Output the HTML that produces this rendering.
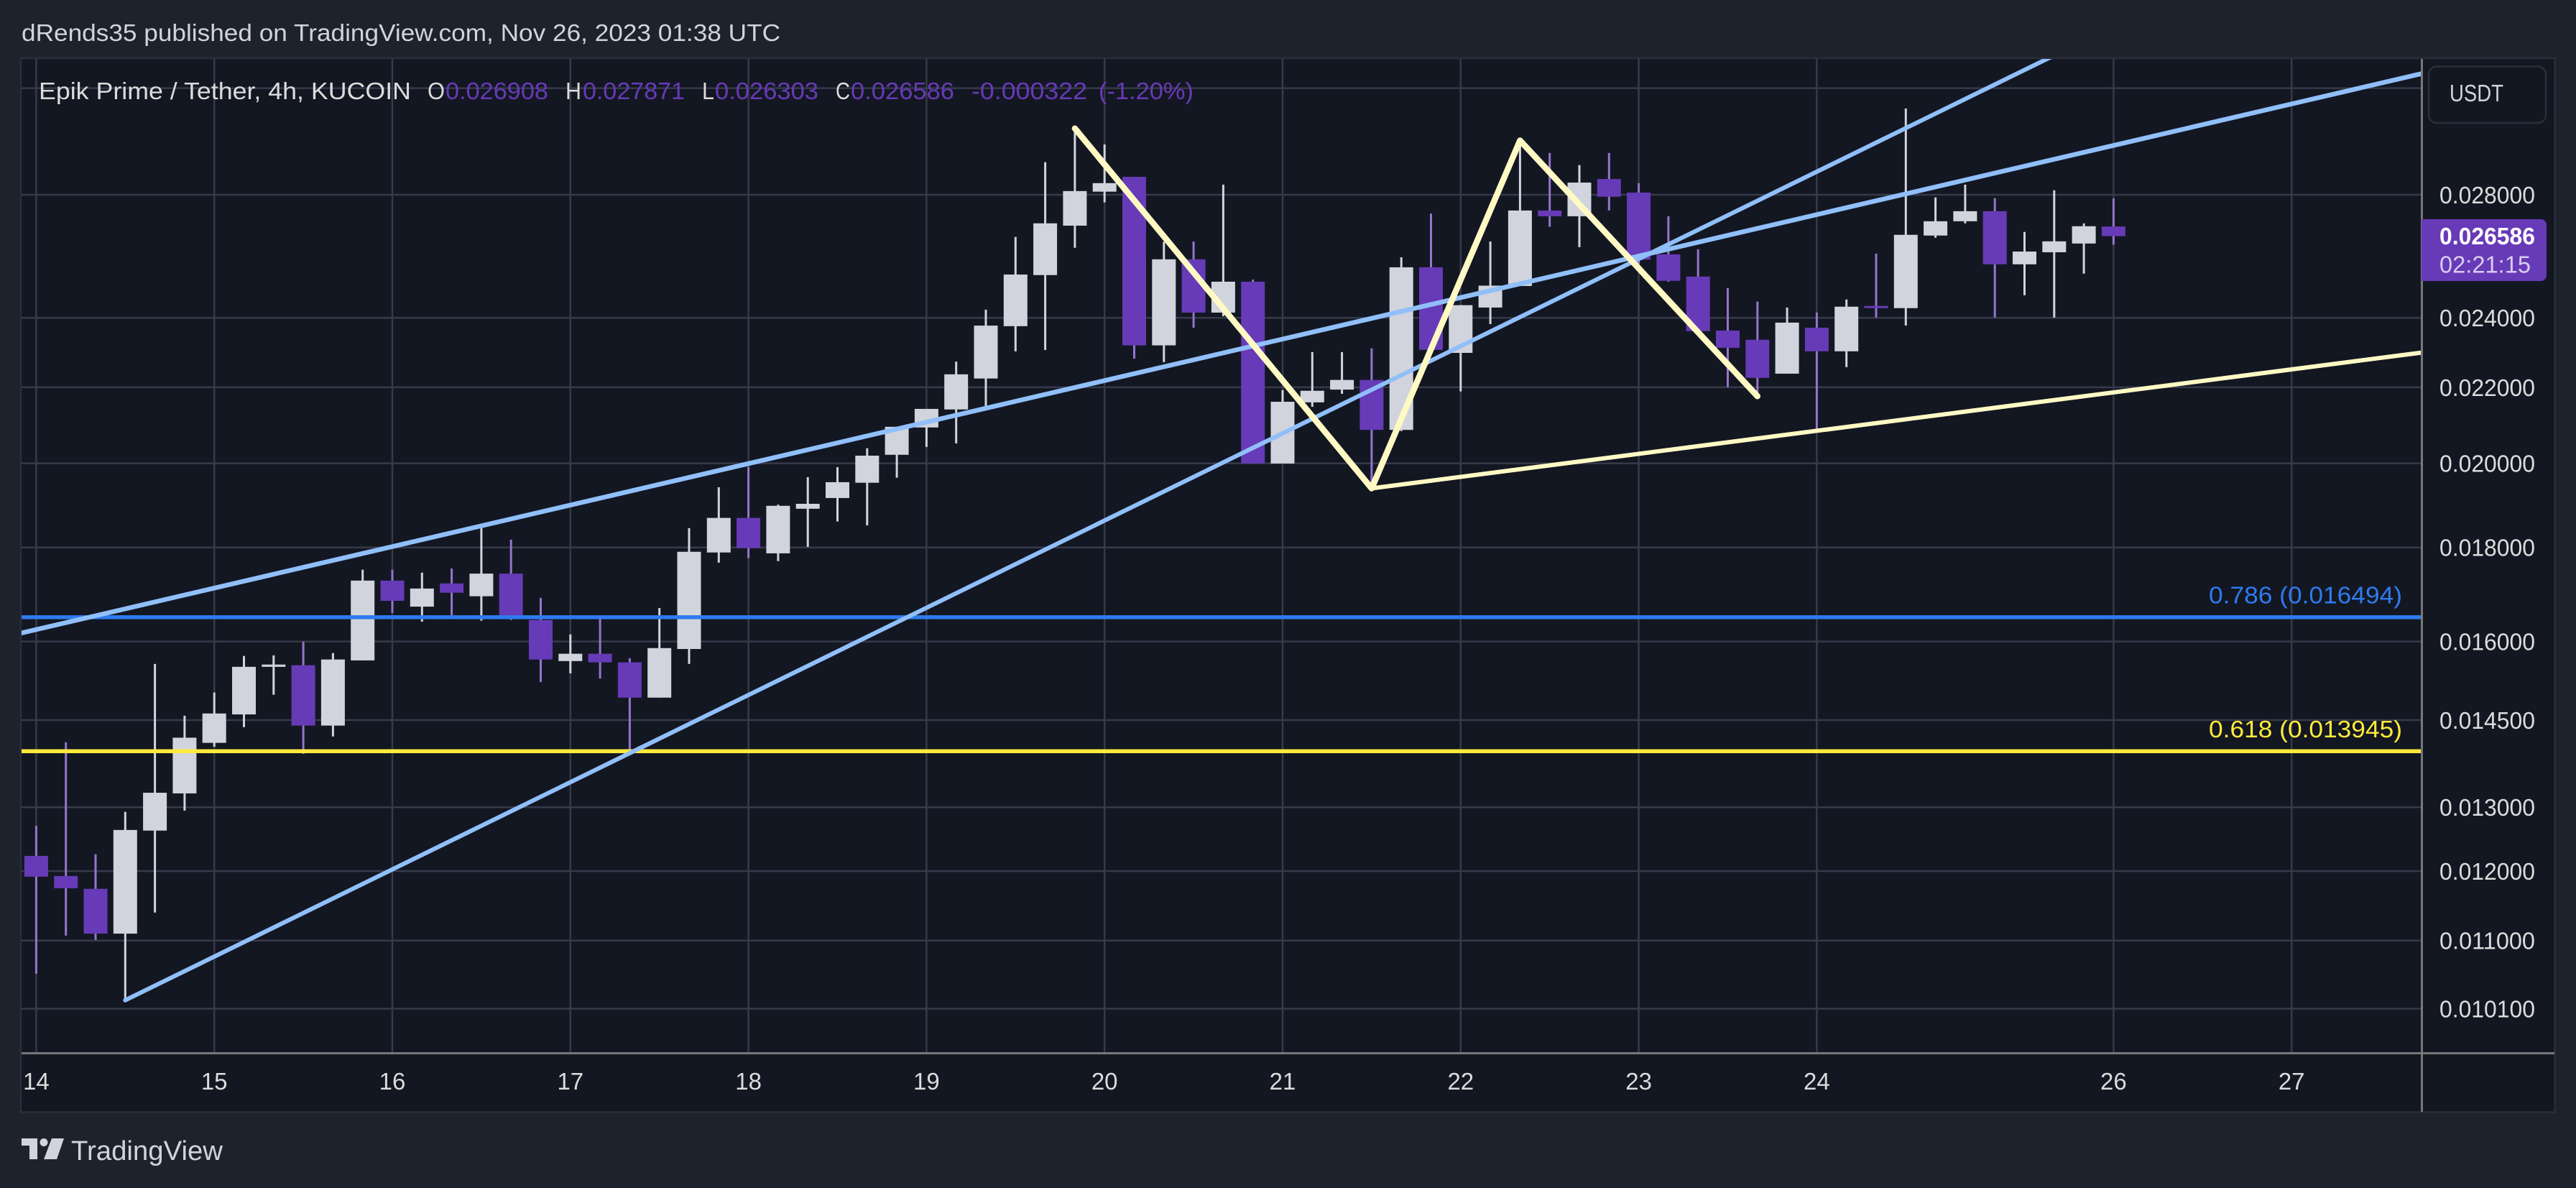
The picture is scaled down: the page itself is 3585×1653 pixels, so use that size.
<!DOCTYPE html>
<html lang="en">
<head>
<meta charset="utf-8">
<title>Epik Prime / Tether 4h chart</title>
<style>
html,body{margin:0;padding:0;background:#1e222d;width:3585px;height:1653px;overflow:hidden}
svg{display:block}
text{font-family:"Liberation Sans",sans-serif;font-size:33px}
</style>
</head>
<body>
<svg id="chart" xmlns="http://www.w3.org/2000/svg" width="3585" height="1653" viewBox="0 0 3585 1653">
  <defs>
    <clipPath id="plot-clip"><rect x="30" y="82" width="3339" height="1382"/></clipPath>
  </defs>
  <rect x="0" y="0" width="3585" height="1653" fill="#1e222d"/>
  <text x="30" y="57" fill="#d1d4dc" textLength="1056" lengthAdjust="spacingAndGlyphs">dRends35 published on TradingView.com, Nov 26, 2023 01:38 UTC</text>
  <rect x="29" y="81" width="3526.5" height="1466.5" fill="#131722" stroke="#2a2e39" stroke-width="2.5"/>
  <g id="grid"></g>
  <g id="candles" clip-path="url(#plot-clip)"></g>
  <g id="drawings" clip-path="url(#plot-clip)"></g>
  <g>
    <text x="54" y="138" fill="#dcdcdc" textLength="518" lengthAdjust="spacingAndGlyphs">Epik Prime / Tether, 4h, KUCOIN</text>
    <text x="595" y="138" fill="#dcdcdc" textLength="24" lengthAdjust="spacingAndGlyphs">O</text>
    <text x="620" y="138" fill="#673ab7" textLength="143" lengthAdjust="spacingAndGlyphs">0.026908</text>
    <text x="787" y="138" fill="#dcdcdc" textLength="22" lengthAdjust="spacingAndGlyphs">H</text>
    <text x="811" y="138" fill="#673ab7" textLength="142" lengthAdjust="spacingAndGlyphs">0.027871</text>
    <text x="977" y="138" fill="#dcdcdc" textLength="17" lengthAdjust="spacingAndGlyphs">L</text>
    <text x="995" y="138" fill="#673ab7" textLength="144" lengthAdjust="spacingAndGlyphs">0.026303</text>
    <text x="1163" y="138" fill="#dcdcdc" textLength="20" lengthAdjust="spacingAndGlyphs">C</text>
    <text x="1184" y="138" fill="#673ab7" textLength="144" lengthAdjust="spacingAndGlyphs">0.026586</text>
    <text x="1352" y="138" fill="#673ab7" textLength="161" lengthAdjust="spacingAndGlyphs">-0.000322</text>
    <text x="1529" y="138" fill="#673ab7" textLength="132" lengthAdjust="spacingAndGlyphs">(-1.20%)</text>
  </g>
  <text x="3074" y="839.5" fill="#2e7bee" textLength="269" lengthAdjust="spacingAndGlyphs">0.786 (0.016494)</text>
  <text x="3074" y="1026" fill="#ffeb3b" textLength="269" lengthAdjust="spacingAndGlyphs">0.618 (0.013945)</text>
  <rect x="3369" y="82" width="3" height="1465" fill="#787878"/>
  <rect x="30" y="1464" width="3525" height="3" fill="#787878"/>
  <g id="price-axis"></g>
  <g id="time-axis"></g>
  <g>
    <rect x="3380" y="92.5" width="163" height="78.5" rx="11" ry="11" fill="#131722" stroke="#2a2e39" stroke-width="2.5"/>
    <text x="3409" y="141" fill="#d1d4dc" textLength="75" lengthAdjust="spacingAndGlyphs">USDT</text>
  </g>
  <g>
    <path d="M3370 305H3536a8 8 0 0 1 8 8V383a8 8 0 0 1 -8 8H3370Z" fill="#673ab7"/>
    <text x="3395" y="340" fill="#ffffff" font-weight="bold" textLength="133" lengthAdjust="spacingAndGlyphs">0.026586</text>
    <text x="3395" y="379.5" fill="#d8ccf0" textLength="127" lengthAdjust="spacingAndGlyphs">02:21:15</text>
  </g>
  <g>
    <path d="M30 1584H52V1613H41V1594H30Z" fill="#d1d4dc"/>
    <circle cx="61" cy="1589.5" r="5.5" fill="#d1d4dc"/>
    <path d="M72 1584H89L79 1613H61Z" fill="#d1d4dc"/>
    <text x="99" y="1614" fill="#d1d4dc" style="font-size:38px" textLength="211" lengthAdjust="spacingAndGlyphs">TradingView</text>
  </g>
</svg>
<script>
// Candle values, one entry per 4h bar.
const opens = [0.012231,0.011927,0.011737,0.011096,0.012625,0.013227,0.014092,0.014603,0.015500,0.015531,0.014400,0.015625,0.017268,0.016714,0.017207,0.016933,0.017420,0.016436,0.015612,0.015756,0.015587,0.014913,0.015850,0.017887,0.018679,0.017868,0.018895,0.019150,0.019520,0.020216,0.020920,0.021397,0.022243,0.023750,0.025320,0.026937,0.028109,0.028634,0.023186,0.025825,0.024157,0.025111,0.019997,0.021588,0.021936,0.022203,0.020856,0.025568,0.022969,0.024311,0.024976,0.027454,0.027256,0.028558,0.028077,0.025985,0.025272,0.023620,0.023349,0.022378,0.023706,0.023014,0.024359,0.024293,0.026605,0.027086,0.027429,0.025664,0.026054,0.026341,0.026908];
const highs = [0.012701,0.014103,0.012257,0.012925,0.015556,0.014579,0.015009,0.015713,0.015724,0.015997,0.015769,0.017505,0.017505,0.017441,0.017533,0.018446,0.018177,0.016899,0.016142,0.016482,0.015668,0.016686,0.018442,0.019411,0.019912,0.018992,0.019658,0.019905,0.020384,0.020937,0.021412,0.022719,0.024247,0.026560,0.029167,0.030426,0.029822,0.028634,0.026399,0.026409,0.028358,0.025178,0.021921,0.022993,0.022993,0.023098,0.025891,0.027348,0.024383,0.026409,0.029969,0.029506,0.029060,0.029506,0.028411,0.027256,0.026151,0.024912,0.024493,0.024311,0.024161,0.024557,0.026008,0.031195,0.027906,0.028358,0.027881,0.026726,0.028157,0.027014,0.027871];
const lows = [0.010553,0.011069,0.011009,0.010208,0.011393,0.012946,0.014023,0.014372,0.014967,0.013898,0.014205,0.015625,0.016580,0.016402,0.016533,0.016423,0.016436,0.015207,0.015374,0.015275,0.013920,0.014913,0.015556,0.017661,0.017761,0.017695,0.018013,0.018595,0.018504,0.019644,0.020415,0.020507,0.021460,0.023012,0.023054,0.026200,0.027735,0.022802,0.022703,0.023706,0.024047,0.019997,0.019997,0.021468,0.021820,0.019404,0.020826,0.023056,0.021886,0.023811,0.024976,0.026898,0.026221,0.027454,0.025671,0.025111,0.023603,0.022003,0.021820,0.022378,0.020883,0.022562,0.024008,0.023769,0.026533,0.027014,0.024008,0.024688,0.024008,0.025366,0.026303];
const closes = [0.011917,0.011745,0.011096,0.012635,0.013238,0.014183,0.014620,0.015500,0.015544,0.014400,0.015643,0.017268,0.016836,0.017097,0.017008,0.017420,0.016468,0.015643,0.015756,0.015587,0.014913,0.015868,0.017903,0.018679,0.017986,0.018964,0.019012,0.019534,0.020194,0.020937,0.021412,0.022360,0.023767,0.025338,0.027016,0.028130,0.028411,0.023186,0.025825,0.024157,0.025111,0.019997,0.021604,0.021904,0.022203,0.020856,0.025568,0.023056,0.024383,0.024987,0.027454,0.027256,0.028431,0.027931,0.025815,0.025139,0.023603,0.023115,0.022261,0.023856,0.023014,0.024337,0.024293,0.026630,0.027086,0.027429,0.025664,0.026077,0.026413,0.026918,0.026586];

// Time axis: day labels and the bar each one falls on.
const dayLabels = ["14","15","16","17","18","19","20","21","22","23","24","26","27"];
const dayBars = [0,6,12,18,24,30,36,42,48,54,60,70,76];

// Price axis: gridline values and printed labels.
const gridPrices = [0.032,0.028,0.024,0.022,0.020,0.018,0.016,0.0145,0.013,0.012,0.011,0.0101];
const tickPrices = [0.028,0.024,0.022,0.020,0.018,0.016,0.0145,0.013,0.012,0.011,0.0101];
const tickLabels = ["0.028000","0.024000","0.022000","0.020000","0.018000","0.016000","0.014500","0.013000","0.012000","0.011000","0.010100"];

// Fibonacci levels.
const fibPrices = [0.016494,0.013945];
const fibNames = ["fib-0786-line","fib-0618-line"];
const fibColors = ["#2e7bee","#ffeb3b"];

// Hand-drawn trend lines, anchored on bar number and price.
const riseLineBars = [3,69];
const riseLinePrices = [0.010208,0.033953];
const channelLineBars = [-0.494,80.33];
const channelLinePrices = [0.016171,0.032574];
const zigzagBars = [35,45,50,58];
const zigzagPrices = [0.030426,0.019383,0.029969,0.021755];
const supportLineBars = [45,80.33];
const supportLinePrices = [0.019383,0.022972];

function xAt(bar){return 50.4+41.3*bar;}
function yAt(price){return 271+1110.7*Math.log(0.028/price);}

const NS="http://www.w3.org/2000/svg";
function make(tag,parent,attrs){
  const el=document.createElementNS(NS,tag);
  for(const k in attrs){el.setAttribute(k,attrs[k]);}
  parent.appendChild(el);
  return el;
}
const gridG=document.getElementById("grid");
const candleG=document.getElementById("candles");
const drawG=document.getElementById("drawings");
const priceG=document.getElementById("price-axis");
const timeG=document.getElementById("time-axis");

gridPrices.forEach(function(p){
  const el=make("rect",gridG,{x:30,y:yAt(p)-1.25,width:3339,height:2.5,fill:"#363a4a"});
  
  
});
dayBars.forEach(function(b,i){
  const el=make("rect",gridG,{x:xAt(b)-1.25,y:82,width:2.5,height:1382,fill:"#363a4a"});
  
  
  const t=make("text",timeG,{x:xAt(b),y:1516,fill:"#dcdcdc","text-anchor":"middle"});
  t.textContent=dayLabels[i];
  
  
});
tickPrices.forEach(function(p,i){
  const t=make("text",priceG,{x:3395,y:yAt(p)+12,fill:"#dcdcdc",textLength:133,lengthAdjust:"spacingAndGlyphs"});
  t.textContent=tickLabels[i];
  
  
});

opens.forEach(function(o,i){
  const c=closes[i];
  const up=c>=o;
  const x=xAt(i);
  const wick=make("rect",candleG,{x:x-1.5,y:yAt(highs[i]),width:3,height:yAt(lows[i])-yAt(highs[i]),fill:up?"#d1d4dc":"#9575cd"});
  
  
  const top=yAt(Math.max(o,c));
  const bot=yAt(Math.min(o,c));
  const body=make("rect",candleG,{x:x-16.5,y:top,width:33,height:Math.max(bot-top,2),fill:up?"#d1d4dc":"#673ab7"});
  
  
});

fibPrices.forEach(function(p,i){
  const el=make("rect",drawG,{x:30,y:yAt(p)-2.75,width:3339,height:5.5,fill:fibColors[i]});
  
  
});
function polyPoints(bars,prices){
  return bars.map(function(b,i){return xAt(b)+","+yAt(prices[i]);}).join(" ");
}
const riseLine=make("polyline",drawG,{points:polyPoints(riseLineBars,riseLinePrices),fill:"none",stroke:"#90bff9","stroke-width":6,"stroke-linecap":"round"});


const channelLine=make("polyline",drawG,{points:polyPoints(channelLineBars,channelLinePrices),fill:"none",stroke:"#90bff9","stroke-width":6.5,"stroke-linecap":"round"});


const supportLine=make("polyline",drawG,{points:polyPoints(supportLineBars,supportLinePrices),fill:"none",stroke:"#fff9c4","stroke-width":6,"stroke-linecap":"round"});


const zigzag=make("polyline",drawG,{points:polyPoints(zigzagBars,zigzagPrices),fill:"none",stroke:"#fff9c4","stroke-width":8.5,"stroke-linecap":"round","stroke-linejoin":"round"});


</script>
</body>
</html>
